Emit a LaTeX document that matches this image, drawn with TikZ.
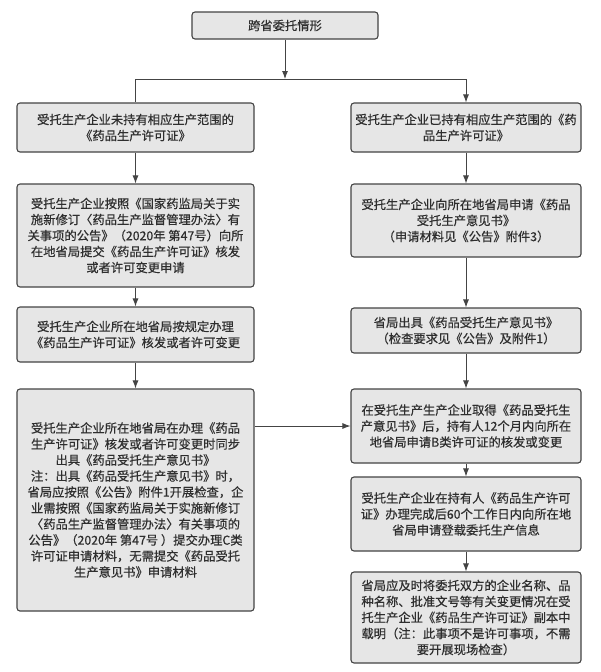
\documentclass[tikz,border=0pt]{standalone}
\usepackage{fontspec}
\setmainfont{Noto Sans CJK SC}[FakeBold=0.5]
\usetikzlibrary{arrows.meta}
\definecolor{boxfill}{HTML}{E6E6E6}
\definecolor{boxline}{HTML}{444444}
\definecolor{txt}{HTML}{2E2E2E}
\tikzset{
  flowbox/.style={draw=boxline, fill=boxfill, line width=1.1pt, rounded corners=3pt,
    inner sep=0pt, align=center, text=txt, font=\fontsize{12.3}{16}\selectfont},
  conn/.style={draw=boxline, line width=0.9pt},
  arr/.style={conn, -{Latex[length=8pt,width=6pt]}}
}
\begin{document}
\begin{tikzpicture}[x=1pt,y=-1pt]
\useasboundingbox (0,0) rectangle (600,672);
\fill[white] (0,0) rectangle (600,672);
\node[flowbox, minimum width=186pt, minimum height=27pt] (top) at (285,25.5) {跨省委托情形};
\node[flowbox, minimum width=237pt, minimum height=49pt] (L1) at (135.5,127.5)
  {受托生产企业未持有相应生产范围的\\《药品生产许可证》};
\node[flowbox, minimum width=237pt, minimum height=103pt] (L2) at (135.5,235.5)
  {受托生产企业按照《国家药监局关于实\\施新修订〈药品生产监督管理办法〉有\\关事项的公告》（2020年\ 第47号）向所\\在地省局提交《药品生产许可证》核发\\或者许可变更申请};
\node[flowbox, minimum width=237pt, minimum height=55pt] (L3) at (135.5,334.5)
  {受托生产企业所在地省局按规定办理\\《药品生产许可证》核发或者许可变更};
\node[flowbox, minimum width=237pt, minimum height=222pt] (L4) at (135.5,500)
  {受托生产企业所在地省局在办理《药品\\生产许可证》核发或者许可变更时同步\\出具《药品受托生产意见书》\\注：出具《药品受托生产意见书》时，\\省局应按照《公告》附件1开展检查，企\\业需按照《国家药监局关于实施新修订\\〈药品生产监督管理办法〉有关事项的\\公告》（2020年\ 第47号\ ）提交办理C类\\许可证申请材料，无需提交《药品受托\\生产意见书》申请材料};
\node[flowbox, minimum width=230pt, minimum height=49pt] (R1) at (466,127.5)
  {受托生产企业已持有相应生产范围的《药\\品生产许可证》};
\node[flowbox, minimum width=230pt, minimum height=73pt] (R2) at (466,220.5)
  {受托生产企业向所在地省局申请《药品\\受托生产意见书》\\（申请材料见《公告》附件3）};
\node[flowbox, minimum width=230pt, minimum height=45pt] (R3) at (466,330.5)
  {省局出具《药品受托生产意见书》\\（检查要求见《公告》及附件1）};
\node[flowbox, minimum width=230pt, minimum height=74pt] (R4) at (466,426)
  {在受托生产生产企业取得《药品受托生\\产意见书》后，持有人12个月内向所在\\地省局申请B类许可证的核发或变更};
\node[flowbox, minimum width=230pt, minimum height=74pt] (R5) at (466,514)
  {受托生产企业在持有人《药品生产许可\\证》办理完成后60个工作日内向所在地\\省局申请登载委托生产信息};
\node[flowbox, minimum width=230pt, minimum height=91pt] (R6) at (466,617.5)
  {省局应及时将委托双方的企业名称、品\\种名称、批准文号等有关变更情况在受\\托生产企业《药品生产许可证》副本中\\载明（注：此事项不是许可事项，不需\\要开展现场检查）};
\coordinate (J) at (285,79);
\coordinate (JL) at (L1.north |- J);
\coordinate (JR) at (R1.north |- J);
\draw[arr] (top) -- (J);
\draw[conn] (JL) -- (JR);
\draw[conn] (JL) -- (L1.north);
\draw[arr] (JR) -- (R1.north);
\draw[arr] (L1) -- (L2);
\draw[arr] (L2) -- (L3);
\draw[arr] (L3) -- (L4);
\draw[arr] (R1) -- (R2);
\draw[arr] (R2) -- (R3);
\draw[arr] (R3) -- (R4);
\draw[arr] (R4) -- (R5);
\draw[arr] (R5) -- (R6);
\draw[arr] (L4.east |- R4.west) -- (R4.west);
\end{tikzpicture}
\end{document}
